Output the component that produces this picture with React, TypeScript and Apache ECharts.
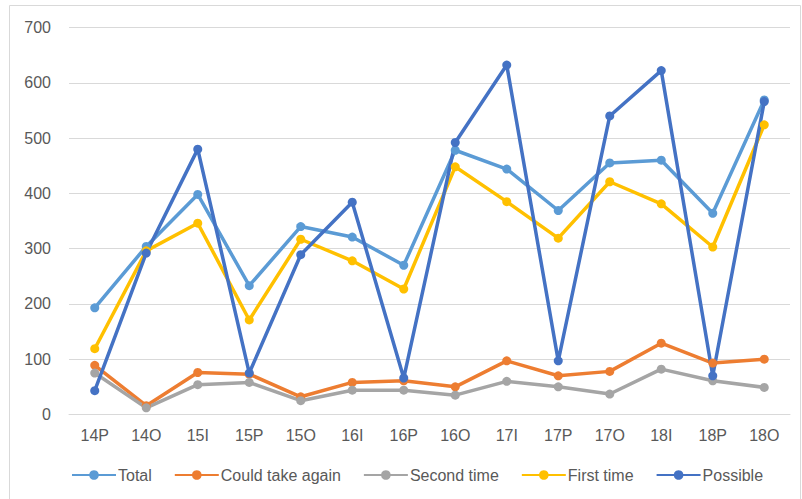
import React, { useEffect, useRef } from "react";
import * as echarts from "echarts";

const categories = ["14P", "14O", "15I", "15P", "15O", "16I", "16P", "16O", "17I", "17P", "17O", "18I", "18P", "18O"];
const total = [193, 304, 398, 233, 340, 321, 270, 478, 444, 369, 455, 460, 364, 569];
const couldTakeAgain = [89, 16, 76, 73, 32, 58, 61, 50, 97, 70, 78, 129, 93, 100];
const secondTime = [75, 12, 54, 58, 25, 44, 44, 35, 60, 50, 37, 82, 61, 49];
const firstTime = [119, 296, 346, 171, 317, 278, 227, 448, 385, 319, 421, 381, 303, 524];
const possible = [43, 292, 480, 75, 289, 384, 66, 492, 632, 97, 540, 622, 70, 566];
const yTicks = { min: 0, max: 700, interval: 100 };

export default function App() {
  const ref = useRef<HTMLDivElement>(null);
  useEffect(() => {
    if (!ref.current) return;
    const chart = echarts.init(ref.current, undefined, { renderer: "svg" });
    const font = "'Liberation Sans', Arial, sans-serif";
    const mk = (name: string, data: number[], color: string) => ({
      name,
      type: "line",
      data,
      symbol: "circle",
      symbolSize: 9,
      lineStyle: { width: 3.5, color },
      itemStyle: { color },
      emphasis: { disabled: true },
    });
    chart.setOption({
      animation: false,
      backgroundColor: "#ffffff",
      textStyle: { fontFamily: font },
      graphic: [
        {
          type: "rect",
          shape: { x: 9.5, y: 5.5, width: 791, height: 520 },
          style: { fill: "none", stroke: "#d9d9d9", lineWidth: 1 },
          silent: true,
        },
      ],
      grid: { left: 69, right: 12, top: 27.5, bottom: 84.5, containLabel: false },
      legend: {
        left: 66,
        top: 462,
        itemWidth: 44,
        itemHeight: 12,
        itemGap: 22,
        textStyle: { fontSize: 16, color: "#595959", fontFamily: font, padding: [0, 0, 0, -3] },
        data: ["Total", "Could take again", "Second time", "First time", "Possible"],
      },
      xAxis: {
        type: "category",
        data: categories,
        boundaryGap: true,
        axisLine: { lineStyle: { color: "#d9d9d9" } },
        axisTick: { show: false },
        axisLabel: { fontSize: 16, color: "#595959", margin: 13, fontFamily: font },
      },
      yAxis: {
        type: "value",
        min: yTicks.min,
        max: yTicks.max,
        interval: yTicks.interval,
        axisLine: { show: false },
        axisTick: { show: false },
        splitLine: { lineStyle: { color: "#d9d9d9", width: 1 } },
        axisLabel: { fontSize: 16, color: "#595959", margin: 18, fontFamily: font },
      },
      series: [
        mk("Total", total, "#5B9BD5"),
        mk("Could take again", couldTakeAgain, "#ED7D31"),
        mk("Second time", secondTime, "#A5A5A5"),
        mk("First time", firstTime, "#FFC000"),
        mk("Possible", possible, "#4472C4"),
      ],
    });
    return () => chart.dispose();
  }, []);
  return <div ref={ref} style={{ position: "absolute", left: 0, top: 0, width: 802, height: 499 }} />;
}
